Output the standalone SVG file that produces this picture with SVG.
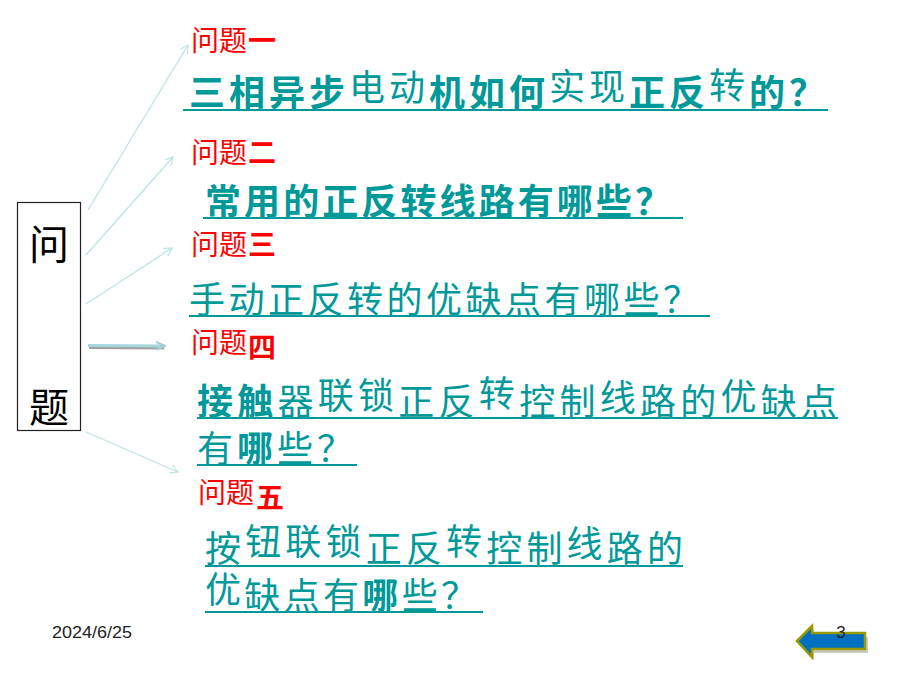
<svg xmlns="http://www.w3.org/2000/svg" width="900" height="675" viewBox="0 0 900 675">
<style>
.q{font-family:"Noto Sans CJK SC","Noto Sans",sans-serif;fill:#ff0000;font-size:28px}
.qb{font-weight:700}
.t{font-family:"Noto Sans CJK SC","Noto Sans",sans-serif;fill:#009999;font-size:36px}
.b{font-weight:700}
.ul{stroke:#009999;stroke-width:2.2}
.thin{stroke:#bde3e8;stroke-width:1.3;fill:none;marker-end:url(#open)}
.foot{font-family:"Liberation Sans",Arial,sans-serif;font-size:17px;fill:#222}
</style>
<defs>
<marker id="open" viewBox="0 0 10 10" refX="9" refY="5" markerWidth="9" markerHeight="9" markerUnits="userSpaceOnUse" orient="auto">
<path d="M0,0 L9,5 L0,10" fill="none" stroke="#bde3e8" stroke-width="1.3"/>
</marker>
<marker id="thick" viewBox="0 0 10 10" refX="9" refY="5" markerWidth="10" markerHeight="10" markerUnits="userSpaceOnUse" orient="auto">
<path d="M0,1 L9,5 L0,9" fill="none" stroke="#9fcfd4" stroke-width="2"/>
</marker>
</defs>
<rect width="900" height="675" fill="#ffffff"/>

<g id="box">
<rect x="17.5" y="202.5" width="63" height="228" fill="#ffffff" stroke="#222" stroke-width="1.2"/>
<text x="49" y="259" text-anchor="middle" style="font-family:'Noto Sans CJK SC',serif;font-size:40px;fill:#000">问</text>
<text x="49" y="422" text-anchor="middle" style="font-family:'Noto Sans CJK SC',serif;font-size:40px;fill:#000">题</text>
</g>

<g id="connectors">
<line class="thin" x1="88" y1="210" x2="188" y2="45"/>
<line class="thin" x1="86" y1="255" x2="173" y2="157"/>
<line class="thin" x1="86" y1="304" x2="172" y2="248"/>
<line x1="89" y1="347.5" x2="164" y2="348" stroke="#a0a0a0" stroke-width="3.2"/>
<line x1="88" y1="345.5" x2="165" y2="346" stroke="#a6d6db" stroke-width="3" marker-end="url(#thick)"/>
<line class="thin" x1="86" y1="432" x2="178" y2="472"/>
</g>

<g id="q1">
<text class="q" x="191" y="51">问题</text>
<text class="q qb" x="248" y="51">一</text>
<text class="t" x="189" y="106" textLength="636" lengthAdjust="spacing"><tspan class="b">三相异步</tspan><tspan dy="-5">电动</tspan><tspan class="b" dy="5">机如何</tspan><tspan dy="-6">实现</tspan><tspan class="b" dy="6">正反</tspan><tspan dy="-7">转</tspan><tspan class="b" dy="7">的？</tspan></text>
<line class="ul" x1="183" y1="110" x2="828" y2="110"/>
</g>

<g id="q2">
<text class="q" x="191" y="163">问题</text>
<text class="q qb" x="248" y="163">二</text>
<text class="t b" x="205" y="215" textLength="466" lengthAdjust="spacing">常用的正反转线路有哪些？</text>
<line class="ul" x1="203" y1="218" x2="683" y2="218"/>
</g>

<g id="q3">
<text class="q" x="191" y="255">问题</text>
<text class="q qb" x="248" y="255">三</text>
<text class="t" x="189" y="313" textLength="510" lengthAdjust="spacing">手动正反转的优缺点有哪些？</text>
<line class="ul" x1="189" y1="316" x2="710" y2="316"/>
</g>

<g id="q4">
<text class="q" x="191" y="353">问题</text>
<text class="q qb" x="248" y="358">四</text>
<text class="t" x="197" y="415" textLength="640" lengthAdjust="spacing"><tspan class="b">接触</tspan>器<tspan dy="-6">联锁</tspan><tspan dy="6">正反</tspan><tspan dy="-8">转</tspan><tspan dy="8">控制</tspan><tspan dy="-4">线</tspan><tspan dy="4">路的</tspan><tspan dy="-5">优</tspan><tspan dy="5">缺点</tspan></text>
<line class="ul" x1="197" y1="418" x2="838" y2="418"/>
<text class="t" x="197" y="462" textLength="156" lengthAdjust="spacing">有<tspan class="b">哪</tspan>些？</text>
<line class="ul" x1="197" y1="465" x2="357" y2="465"/>
</g>

<g id="q5">
<text class="q" x="198" y="503">问题</text>
<text class="q qb" x="256" y="508">五</text>
<text class="t" x="205" y="562" textLength="478" lengthAdjust="spacing">按<tspan dy="-7">钮联锁</tspan><tspan dy="7">正反</tspan><tspan dy="-7">转</tspan><tspan dy="7">控制</tspan><tspan dy="-5">线</tspan><tspan dy="5">路的</tspan></text>
<line class="ul" x1="205" y1="566" x2="683" y2="566"/>
<text class="t" x="205" y="609" textLength="272" lengthAdjust="spacing"><tspan dy="-6">优</tspan><tspan dy="6">缺点有</tspan><tspan class="b">哪</tspan>些？</text>
<line class="ul" x1="205" y1="612" x2="483" y2="612"/>
</g>

<g id="footer">
<text class="foot" x="52" y="638" textLength="80" lengthAdjust="spacingAndGlyphs">2024/6/25</text>
<g id="back-arrow">
<path d="M799,644 L814,629 L814,637 L868,637 L868,653 L814,653 L814,660 Z" fill="#666" opacity="0.35"/>
<path d="M797,641 L812,626 L812,633 L865,633 L865,649 L812,649 L812,657 Z" fill="#0070c0" stroke="#999900" stroke-width="2.5" stroke-linejoin="miter"/>
</g>
<text class="foot" x="841" y="638" text-anchor="middle">3</text>
</g>
</svg>
